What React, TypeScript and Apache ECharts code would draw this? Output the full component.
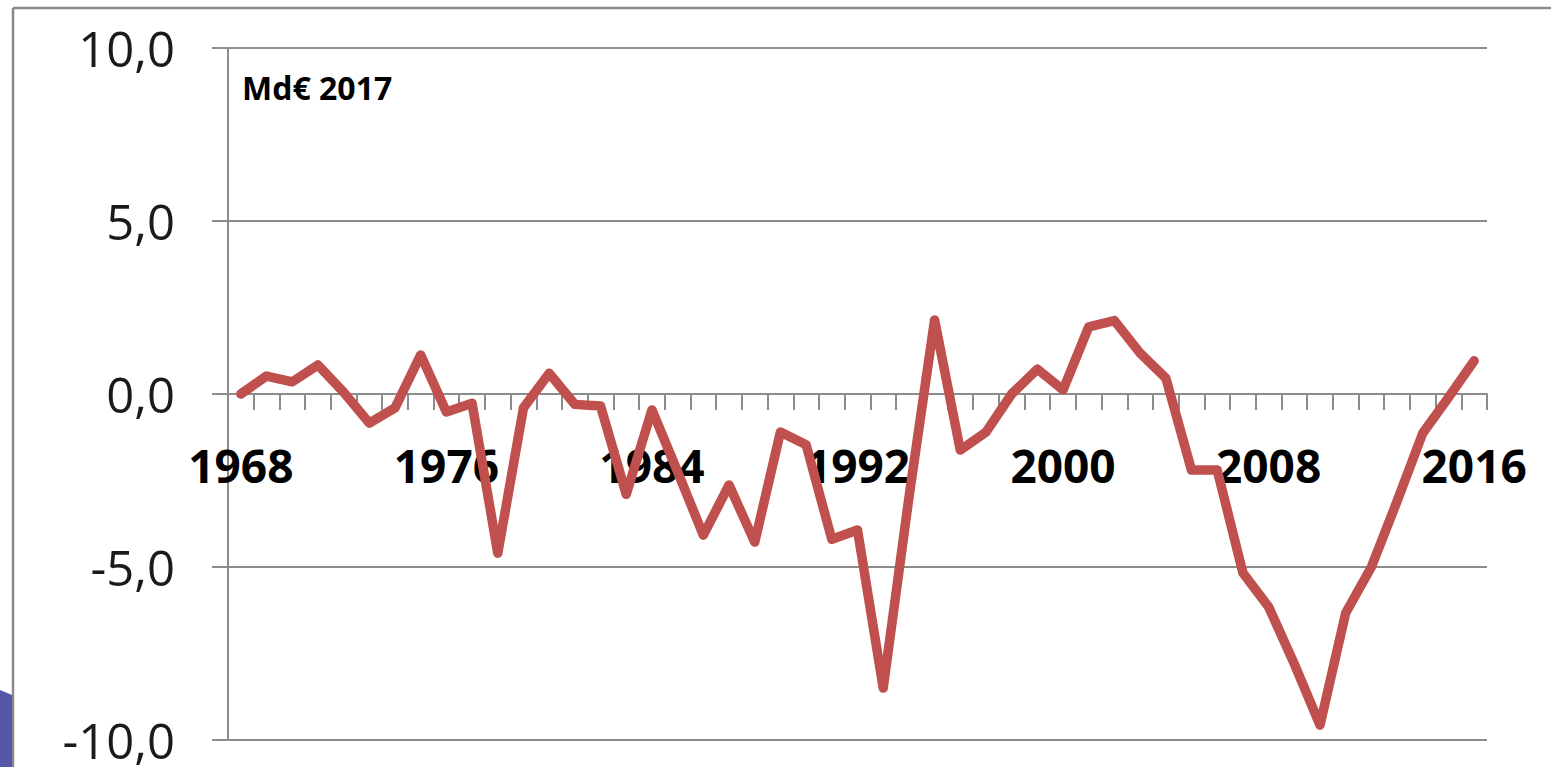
import React, { useEffect, useRef } from "react";
import * as echarts from "echarts";

const years: string[] = [
  "1968", "1969", "1970", "1971", "1972", "1973", "1974", "1975", "1976", "1977",
  "1978", "1979", "1980", "1981", "1982", "1983", "1984", "1985", "1986", "1987",
  "1988", "1989", "1990", "1991", "1992", "1993", "1994", "1995", "1996", "1997",
  "1998", "1999", "2000", "2001", "2002", "2003", "2004", "2005", "2006", "2007",
  "2008", "2009", "2010", "2011", "2012", "2013", "2014", "2015", "2016",
];

const values: number[] = [
  0.0, 0.52, 0.35, 0.84, 0.05, -0.84, -0.4, 1.13, -0.52, -0.27,
  -4.6, -0.4, 0.6, -0.3, -0.35, -2.9, -0.46, -2.25, -4.08, -2.63,
  -4.28, -1.1, -1.47, -4.2, -3.93, -8.5, -3.0, 2.14, -1.62, -1.1,
  0.0, 0.72, 0.12, 1.94, 2.12, 1.18, 0.46, -2.2, -2.2, -5.17,
  -6.15, -7.8, -9.57, -6.33, -5.0, -3.1, -1.13, -0.1, 0.96,
];

const yMin = -10;
const yMax = 10;
const yStep = 5;
const unitLabel = "Md€ 2017";

export default function App() {
  const ref = useRef<HTMLDivElement>(null);
  useEffect(() => {
    if (!ref.current) return;
    const chart = echarts.init(ref.current, null, { renderer: "svg" });
    const gray = "#8c8c8c";
    const gridTop = 48;
    const gridBottom = 27;
    const plotH = 767 - gridTop - gridBottom;
    const zeroOffset = -plotH * (0 - yMin) / (yMax - yMin);
    chart.setOption({
      animation: false,
      backgroundColor: "#ffffff",
      grid: {
        left: 228,
        right: 64,
        top: gridTop,
        bottom: gridBottom,
        containLabel: false,
        outerBoundsMode: "none",
      },
      xAxis: [
        {
          type: "category",
          data: years,
          boundaryGap: true,
          axisLine: { show: true, onZero: true, lineStyle: { color: gray, width: 2 } },
          axisTick: { show: true, interval: 0, length: 16, lineStyle: { color: gray, width: 2 } },
          axisLabel: { show: false },
          splitLine: { show: false },
        },
        {
          type: "category",
          data: years,
          boundaryGap: true,
          position: "bottom",
          offset: zeroOffset,
          axisLine: { show: false },
          axisTick: { show: false },
          axisLabel: {
            interval: 7,
            margin: 48,
            fontFamily: "Open Sans",
            fontWeight: "bold",
            fontSize: 46,
            color: "#000000",
          },
          splitLine: { show: false },
        },
      ],
      yAxis: {
        type: "value",
        min: yMin,
        max: yMax,
        interval: yStep,
        axisLine: { show: true, lineStyle: { color: gray, width: 2 } },
        axisTick: { show: true, length: 16, lineStyle: { color: gray, width: 2 } },
        axisLabel: {
          margin: 53,
          fontFamily: "Open Sans",
          fontSize: 49,
          lineHeight: 42,
          padding: [0, 0, 6, 0],
          color: "#1a1a1a",
          formatter: (v: number) => v.toFixed(1).replace(".", ","),
        },
        splitLine: { show: true, lineStyle: { color: gray, width: 2 } },
      },
      series: [
        {
          type: "line",
          xAxisIndex: 0,
          data: values,
          symbol: "none",
          lineStyle: { color: "#C0504D", width: 9.5, cap: "round", join: "round" },
          z: 5,
        },
      ],
      graphic: [
        {
          type: "text",
          left: 242,
          top: 71,
          style: {
            text: unitLabel,
            fontFamily: "Open Sans",
            fontWeight: "bold",
            fontSize: 32,
            fill: "#000000",
          },
        },
        {
          type: "line",
          shape: { x1: 13, y1: 8, x2: 1551, y2: 8 },
          style: { stroke: "#8a8a8a", lineWidth: 2.5 },
        },
        {
          type: "line",
          shape: { x1: 13, y1: 8, x2: 13, y2: 767 },
          style: { stroke: "#8a8a8a", lineWidth: 2.5 },
        },
        {
          type: "polygon",
          shape: { points: [[0, 690], [12, 695], [12, 767], [0, 767]] },
          style: { fill: "#5558A6" },
        },
      ],
    });
    return () => chart.dispose();
  }, []);
  return (
    <div
      ref={ref}
      style={{ position: "fixed", left: 0, top: 0, width: 1551, height: 767, background: "#fff" }}
    />
  );
}
